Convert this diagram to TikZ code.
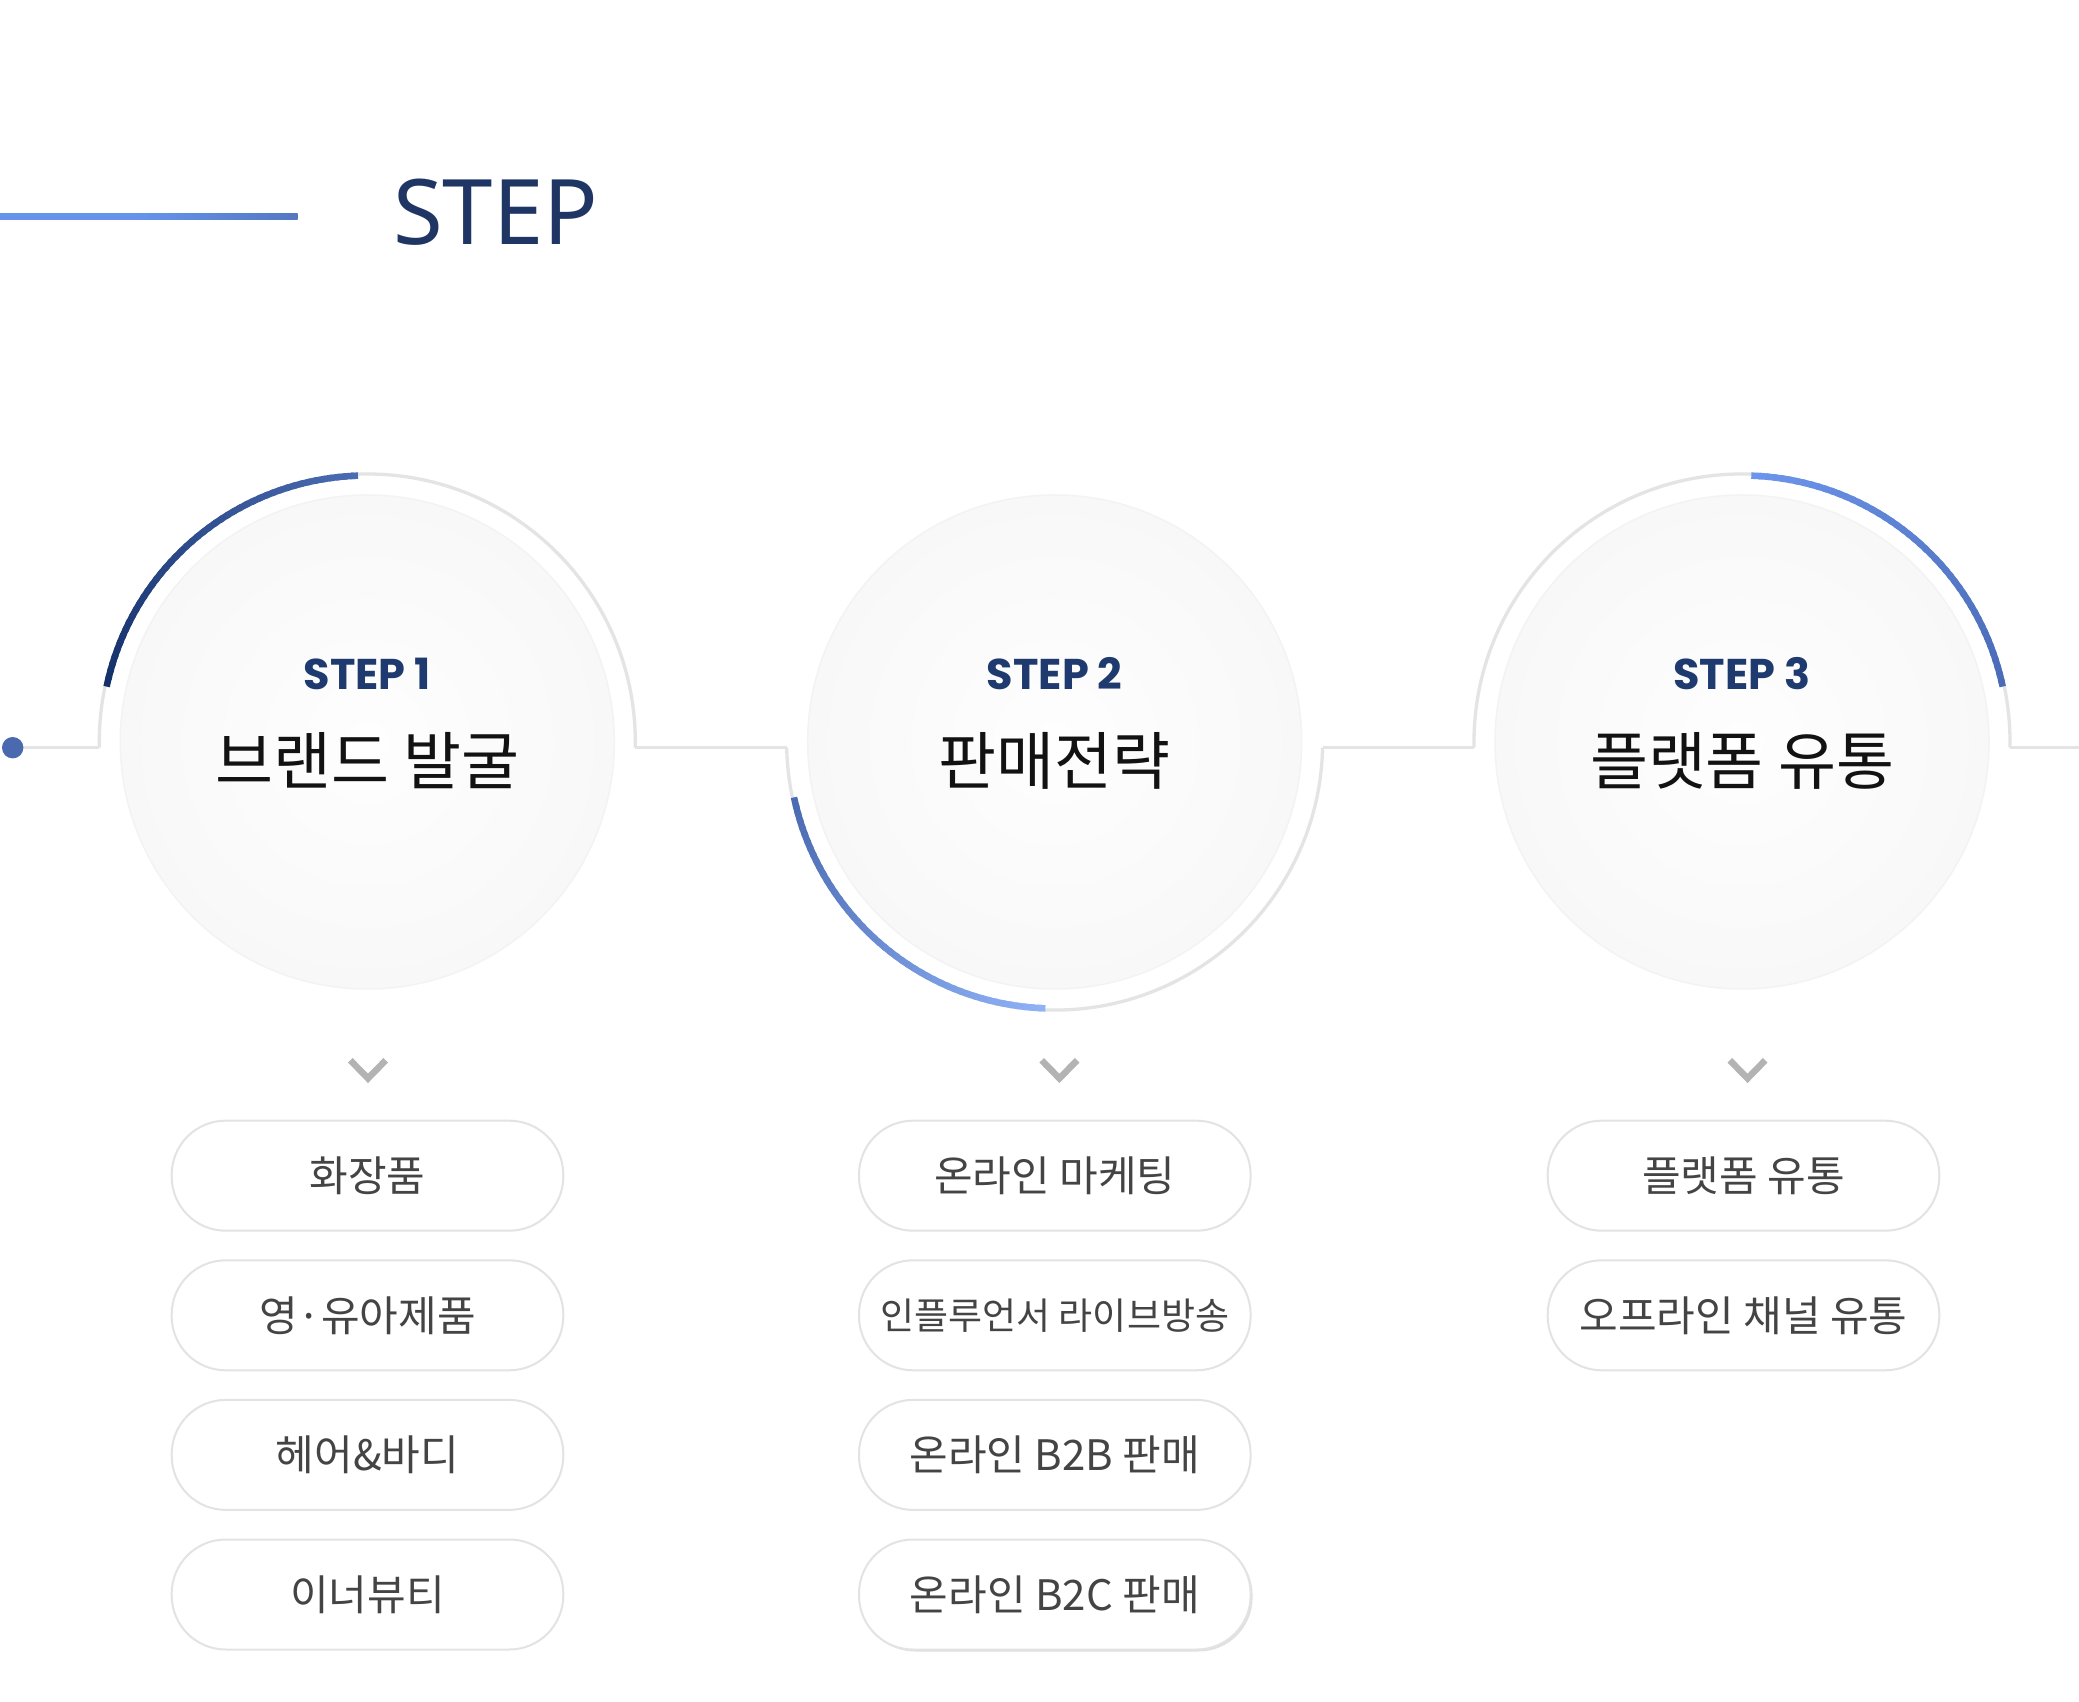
\documentclass[tikz,border=0pt]{standalone}
\usepackage{fontspec}
\setmainfont{Noto Sans}
\newfontfamily\krfont{Noto Sans CJK KR}
\newfontfamily\popfont{Poppins}
\usetikzlibrary{calc}
\definecolor{navy}{HTML}{1F3563}
\definecolor{stepnavy}{HTML}{1E3A6E}
\definecolor{ringgray}{HTML}{E4E4E4}
\definecolor{pillline}{HTML}{E3E3E3}
\definecolor{pilltext}{HTML}{444444}
\definecolor{chevgray}{HTML}{B3B3B3}
\definecolor{dotblue}{HTML}{4A69AE}
\definecolor{innerA}{HTML}{FEFEFE}
\definecolor{innerB}{HTML}{F8F8F8}
\definecolor{innerEdge}{HTML}{F3F3F3}
\definecolor{hlA}{HTML}{6694EC}
\definecolor{hlC}{HTML}{425C9C}
\definecolor{aOneA}{HTML}{14306A}
\definecolor{aOneB}{HTML}{4B6CB3}
\definecolor{aTwoA}{HTML}{4A6AB2}
\definecolor{aTwoB}{HTML}{8FB2F7}
\definecolor{aThreeA}{HTML}{6C95EB}
\definecolor{aThreeB}{HTML}{4A6BB6}
\pgfdeclarehorizontalshading{headline}{100bp}{color(0bp)=(hlA); color(48bp)=(hlA); color(100bp)=(hlC)}
\newcommand\gradarc[6]{%
  \foreach \k in {0,...,47}{%
    \pgfmathsetmacro\aa{#3+(#4-#3)*\k/48}%
    \pgfmathsetmacro\bb{#3+(#4-#3)*min(\k+1.5,48)/48}%
    \pgfmathtruncatemacro\pp{100*\k/47}%
    \draw[line width=6.5, line cap=butt, draw=#6!\pp!#5] ([shift={(\aa:#2)}]#1) arc (\aa:\bb:#2);
  }}
\tikzset{
  conn/.style={draw=ringgray, line width=3.3},
  ringline/.style={draw=ringgray, line width=3.3},
  innercirc/.style={circle, minimum size=494, inner sep=0, draw=innerEdge, line width=1.5, inner color=innerA, outer color=innerB},
  steplbl/.style={inner sep=0, text=stepnavy, font={\popfont\bfseries\fontsize{43}{50}\selectfont}},
  titlelbl/.style={inner sep=0, text=black!93, font={\krfont\fontsize{63}{70}\selectfont}},
  pill/.style={draw=pillline, line width=2, fill=white, rounded corners=54, minimum width=391.6, minimum height=110, inner sep=0, text=pilltext, font={\krfont\fontsize{42}{48}\selectfont}},
  smallpill/.style={pill, font={\krfont\fontsize{37}{42}\selectfont}},
  chev/.style={draw=chevgray, line width=6.5, line cap=butt, line join=miter}
}
\begin{document}
\begin{tikzpicture}[x=1pt,y=1pt]
\useasboundingbox (0,0) rectangle (2079,1701);
\fill[white] (0,0) rectangle (2079,1701);
% header
\shade[shading=headline] (0,1481.3) rectangle (297.7,1487.3);
\node[anchor=base west, inner sep=0, text=navy, font={\fontsize{90.5}{100}\selectfont}] (hdr) at (393,1456.7) {STEP};
% centers
\coordinate (c1) at (367.3,959);
\coordinate (c2) at (1054.7,959);
\coordinate (c3) at (1742,959);
% inner circles
\node[innercirc] (s1) at (c1) {};
\node[innercirc] (s2) at (c2) {};
\node[innercirc] (s3) at (c3) {};
% connector points
\coordinate (dotc) at (12.7,953.3);
\coordinate (r1l) at (99.3,953.3);
\coordinate (r1r) at (635.3,953.3);
\coordinate (r2l) at (786.7,953.3);
\coordinate (r2r) at (1322.7,953.3);
\coordinate (r3l) at (1474,953.3);
\coordinate (r3r) at (2010,953.3);
\coordinate (endr) at (2079,953.3);
\draw[conn] (dotc) -- (r1l);
\draw[conn] (r1r) -- (r2l);
\draw[conn] (r2r) -- (r3l);
\draw[conn] (r3r) -- (endr);
\fill[dotblue] (dotc) circle[radius=10.7];
% rings
\draw[ringline] (r1l) -- ++(0,5.7) arc (180:0:268) -- (r1r);
\draw[ringline] (r2l) arc (181.2:358.8:268);
\draw[ringline] (r3l) -- ++(0,5.7) arc (180:0:268) -- (r3r);
% gradient arcs
\gradarc{c1}{266.5}{168}{92}{aOneA}{aOneB}
\gradarc{c2}{266.5}{192}{268}{aTwoA}{aTwoB}
\gradarc{c3}{266.5}{88}{12}{aThreeA}{aThreeB}
% labels
\node[steplbl] (l1) at (367.3,1027.5) {STEP 1};
\node[steplbl] (l2) at (1054.7,1027.5) {STEP 2};
\node[steplbl] (l3) at (1742,1027.5) {STEP 3};
\node[titlelbl] (t1) at (367.3,940) {브랜드 발굴};
\node[titlelbl] (t2) at (1054.7,940) {판매전략};
\node[titlelbl] (t3) at (1742,940) {플랫폼 유통};
% chevrons
\foreach \cx in {368,1059.4,1747.5}{
  \draw[chev] (\cx-17.7,640.7) -- (\cx,622.6) -- (\cx+17.7,640.7);
}
% pills column 1
\node[pill] (p11) at (367.5,525.3) {화장품};
\node[pill] (p12) at (367.5,385.7) {영·유아제품};
\node[pill] (p13) at (367.5,246.1) {헤어\&바디};
\node[pill] (p14) at (367.5,106.5) {이너뷰티};
% pills column 2
\node[pill] (p21) at (1054.8,525.3) {온라인 마케팅};
\node[smallpill] (p22) at (1054.8,385.7) {인플루언서 라이브방송};
\node[pill] (p23) at (1054.8,246.1) {온라인 B2B 판매};
\fill[black!12, rounded corners=54] (1054.8-195.8+2,106.5-55-2) rectangle (1054.8+195.8+2,106.5+55-2);
\node[pill] (p24) at (1054.8,106.5) {온라인 B2C 판매};
% pills column 3
\node[pill] (p31) at (1743.5,525.3) {플랫폼 유통};
\node[pill] (p32) at (1743.5,385.7) {오프라인 채널 유통};
\end{tikzpicture}
\end{document}
